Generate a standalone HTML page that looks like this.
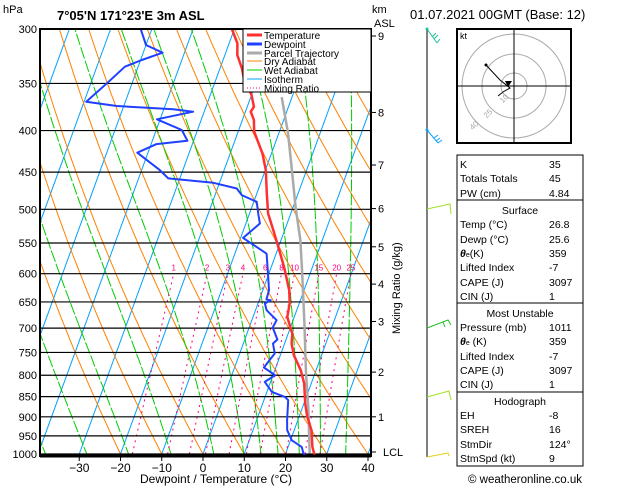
<!DOCTYPE html>
<html><head><meta charset="utf-8"><style>
body{margin:0;background:#fff;}
svg{display:block;font-family:"Liberation Sans",sans-serif;}
</style></head><body>
<svg id="c" width="629" height="486" viewBox="0 0 629 486">
<defs><clipPath id="plot"><rect x="40" y="29" width="331" height="427"/></clipPath></defs>
<text x="3" y="13" font-size="11">hPa</text>
<text x="57" y="20" font-size="13" font-weight="bold">7°05'N  171°23'E  3m  ASL</text>
<text x="372" y="13" font-size="11">km</text>
<text x="374" y="27" font-size="11">ASL</text>
<text x="410" y="19" font-size="13">01.07.2021  00GMT  (Base: 12)</text>
<g id="grid" clip-path="url(#plot)"></g>
<g id="series" clip-path="url(#plot)"></g>
<g id="axes"></g>
<g>
<rect x="243" y="29" width="128" height="63" fill="#fff" stroke="#000"/>
<g font-size="10">
<line x1="247" y1="35" x2="262" y2="35" stroke="#ff3030" stroke-width="3"/><text x="264" y="39">Temperature</text>
<line x1="247" y1="44" x2="262" y2="44" stroke="#2040ff" stroke-width="3"/><text x="264" y="48">Dewpoint</text>
<line x1="247" y1="53" x2="262" y2="53" stroke="#aaa" stroke-width="3"/><text x="264" y="57">Parcel Trajectory</text>
<line x1="247" y1="61" x2="262" y2="61" stroke="#ff8000"/><text x="264" y="65">Dry Adiabat</text>
<line x1="247" y1="70" x2="262" y2="70" stroke="#00cc00"/><text x="264" y="74">Wet Adiabat</text>
<line x1="247" y1="79" x2="262" y2="79" stroke="#00a0ff"/><text x="264" y="83">Isotherm</text>
<line x1="247" y1="88" x2="262" y2="88" stroke="#ff0080" stroke-dasharray="1,2"/><text x="264" y="92">Mixing Ratio</text>
</g></g>
<text x="0" y="0" font-size="11" transform="translate(400,334) rotate(-90)">Mixing Ratio (g/kg)</text>
<text x="216" y="483" font-size="12" text-anchor="middle">Dewpoint / Temperature (°C)</text>
<g fill="none" stroke-width="1">
<line x1="427" y1="29" x2="427" y2="457" stroke="#000"/>
<path d="M427 29 L437 43 M437 43 L440 39 M434 39 L438 35 M432 37 L436 33" stroke="#20c0a0"/>
<path d="M427 130 L438 143 M438 143 L442 140 M436 141 L440 138 M434 138 L438 135" stroke="#10a0ff"/>
<path d="M427 209 L450 204 L451 214" stroke="#a0e020"/>
<path d="M427 328 L448 320 L451 325 M443 322 L445 327" stroke="#20c020"/>
<path d="M427 397 L449 391 L451 400" stroke="#a0e020"/>
<path d="M427 457 L448 453 L449 456" stroke="#e0d020"/>
<circle cx="427" cy="29" r="1.5" fill="#20c0a0"/><circle cx="427" cy="130" r="1.5" fill="#10a0ff"/>
</g>
<g>
<rect x="457" y="29" width="114" height="114" fill="#fff" stroke="#000" stroke-width="2"/>
<text x="460" y="39" font-size="9">kt</text>
<circle cx="514" cy="86" r="13" fill="none" stroke="#aaa"/>
<circle cx="514" cy="86" r="32" fill="none" stroke="#aaa"/>
<circle cx="514" cy="86" r="52" fill="none" stroke="#aaa"/>
<line x1="457" y1="86" x2="571" y2="86" stroke="#000"/>
<line x1="514" y1="29" x2="514" y2="143" stroke="#000"/>
<g font-size="8" fill="#aaa"><text x="500" y="103" transform="rotate(-45 502 100)">10</text><text x="484" y="118" transform="rotate(-45 486 115)">25</text><text x="470" y="130" transform="rotate(-45 472 127)">40</text></g>
<polyline points="486,65 500,80 510,88 503,92 498,96" fill="none" stroke="#000"/>
<circle cx="486" cy="65" r="1.5" fill="#000"/>
<path d="M505 81 L512 81 L508 87 Z" fill="#000"/>
</g>
<g font-size="10.5">
<rect x="457" y="155" width="126" height="45" fill="none" stroke="#000"/>
<rect x="457" y="200" width="126" height="103" fill="none" stroke="#000"/>
<rect x="457" y="303" width="126" height="89" fill="none" stroke="#000"/>
<rect x="457" y="392" width="126" height="74" fill="none" stroke="#000"/>
<text x="460" y="168">K</text><text x="549" y="168">35</text>
<text x="460" y="182">Totals Totals</text><text x="549" y="182">45</text>
<text x="460" y="197">PW (cm)</text><text x="549" y="197">4.84</text>
<text x="520" y="214" text-anchor="middle">Surface</text>
<text x="460" y="228">Temp (°C)</text><text x="549" y="228">26.8</text>
<text x="460" y="243">Dewp (°C)</text><text x="549" y="243">25.6</text>
<text x="460" y="257"><tspan font-weight="bold" font-style="italic">θ</tspan><tspan font-size="7">e</tspan>(K)</text><text x="549" y="257">359</text>
<text x="460" y="271">Lifted Index</text><text x="549" y="271">-7</text>
<text x="460" y="286">CAPE (J)</text><text x="549" y="286">3097</text>
<text x="460" y="300">CIN (J)</text><text x="549" y="300">1</text>
<text x="520" y="317" text-anchor="middle">Most Unstable</text>
<text x="460" y="331">Pressure (mb)</text><text x="549" y="331">1011</text>
<text x="460" y="345"><tspan font-weight="bold" font-style="italic">θ</tspan><tspan font-size="7">e</tspan> (K)</text><text x="549" y="345">359</text>
<text x="460" y="360">Lifted Index</text><text x="549" y="360">-7</text>
<text x="460" y="374">CAPE (J)</text><text x="549" y="374">3097</text>
<text x="460" y="388">CIN (J)</text><text x="549" y="388">1</text>
<text x="520" y="405" text-anchor="middle">Hodograph</text>
<text x="460" y="419">EH</text><text x="549" y="419">-8</text>
<text x="460" y="433">SREH</text><text x="549" y="433">16</text>
<text x="460" y="448">StmDir</text><text x="549" y="448">124°</text>
<text x="460" y="462">StmSpd (kt)</text><text x="549" y="462">9</text>
</g>
<text x="525" y="483" font-size="11.5" text-anchor="middle">© weatheronline.co.uk</text>
</svg>
<script>
const tempP=[300,312.4,322.9,335.3,346.6,361.7,373.9,379.2,388.3,401.3,426.6,447.4,478,506,525.6,550.9,588.7,628.8,653,678.3,711,731.4,756.1,788.9,818.9,866.7,900.3,934.9,980.1,1008];
const tempT=[-30.6,-28,-27,-24.7,-23.1,-20,-18.4,-18.7,-17.2,-16.1,-12.2,-9.9,-7.6,-5.5,-3.3,-0.6,3.1,6.4,7.7,8.3,11,11.7,13.3,16.3,18.3,20.3,22,24.2,25.9,27.4];
const dewP=[300,313.9,320.8,327.5,333.8,349.9,368.6,373.1,376.6,379.2,387.4,399.4,411.7,415.6,425.9,447.4,458.1,463.8,471.3,480.3,489.5,505.9,520.5,542.2,567,600,628.8,645.6,646.8,652.9,665.4,684.5,698.8,723,731.2,752.3,782.7,800,815.3,838.7,850.7,858.7,908.8,934.9,961.8,980.2,1000,1008];
const dewT=[-52.7,-50,-45.3,-49.7,-53.2,-56.1,-59.5,-51.7,-37.7,-32.7,-40.8,-33.8,-31.5,-38.7,-42.6,-35.6,-32.8,-21.5,-15.3,-13.5,-9.3,-7.9,-6.6,-9.4,-2.3,-0.2,1.5,1.7,2.8,1.7,2.7,6,5.7,7.9,7.2,8.5,7.1,10.5,8.6,11.2,14.8,15.9,17.4,18.3,20.3,23.3,24.4,26.3];
const parcelP=[363.8,402.8,443.6,497,545.9,600,690,795,876,998];
const parcelT=[-12.5,-7.8,-3.9,0.6,4.7,8.1,13.0,17.8,21.4,25.8];
const pressureTicks=[300,350,400,450,500,550,600,650,700,750,800,850,900,950,1000];
const tempTicks=[-30,-20,-10,0,10,20,30,40];
const kmTicks=[9,8,7,6,5,4,3,2,1];
const kmPress=[306,380,441,499,556,618,687,793,900];
const mixRatios=[1,2,3,4,6,8,10,15,20,25];
const dryThetas=[253.15,263.15,273.15,283.15,293.15,303.15,313.15,323.15,333.15,343.15,353.15,363.15,373.15,383.15,393.15,403.15,413.15,423.15,433.15,443.15,453.15,463.15,473.15];
const wetStarts=[-35,-25,-15,-5,5,12,16,20,25,30,36];

const NS='http://www.w3.org/2000/svg';
function yOf(p){return 29+Math.log(p/300)/Math.log(1000/300)*425;}
function xOf(T,p){return 203+4.125*T+0.365*(454-yOf(p));}
function mk(tag,parent,attrs){const e=document.createElementNS(NS,tag);for(const k in attrs)e.setAttribute(k,attrs[k]);parent.appendChild(e);return e;}
const grid=document.getElementById('grid'),ser=document.getElementById('series'),axes=document.getElementById('axes');
for(let T=-130;T<=50;T+=10){const l=mk('line',grid,{x1:xOf(T,1000),y1:yOf(1000),x2:xOf(T,300),y2:yOf(300),stroke:'#00a0ff','stroke-width':1});

}
dryThetas.forEach(th=>{let pts=[];for(let p=1050;p>=290;p-=10){pts.push(xOf(th*Math.pow(p/1000,0.2857)-273.15,p).toFixed(1)+','+yOf(p).toFixed(1));}
const l=mk('polyline',grid,{points:pts.join(' '),fill:'none',stroke:'#ff8000','stroke-width':1});

});
function es(T){return 6.112*Math.exp(17.67*T/(T+243.5));}
wetStarts.forEach(t0=>{let T=t0,pts=[];for(let p=1050;p>=290;p-=5){pts.push(xOf(T,p).toFixed(1)+','+yOf(p).toFixed(1));
const TK=T+273.15,rs=0.622*es(T)/(p-es(T)),Lv=2.5e6,Rd=287,cp=1004;
const dTdp=(1/p)*(Rd*TK+Lv*rs)/(cp+Lv*Lv*rs*0.622/(Rd*TK*TK));T-=dTdp*5;}
const l=mk('polyline',grid,{points:pts.join(' '),fill:'none',stroke:'#00cc00','stroke-width':1,'stroke-dasharray':'12,2'});

});
mixRatios.forEach(w=>{let pts=[];for(let p=1000;p>=600;p-=20){const e=w*p/(622+w),a=Math.log(e/6.112),Td=243.5*a/(17.67-a);pts.push(xOf(Td,p).toFixed(1)+','+yOf(p).toFixed(1));}
const l=mk('polyline',grid,{points:pts.join(' '),fill:'none',stroke:'#ff0080','stroke-width':1,'stroke-dasharray':'2,4'});


const e=w*600/(622+w),a=Math.log(e/6.112),Td=243.5*a/(17.67-a);
const t=mk('text',axes,{x:xOf(Td,600),y:yOf(600)-3,'font-size':8,fill:'#ff0080','text-anchor':'middle'});t.textContent=w;

});
pressureTicks.forEach(p=>{const y=yOf(p);const l=mk('line',grid,{x1:40,x2:371,y1:y,y2:y,stroke:'#000','stroke-width':1.2});


const t=mk('text',axes,{x:37,y:y+4,'font-size':11,'text-anchor':'end'});t.textContent=p;

});
function line(P,T,color,w,name){const pts=P.map((p,i)=>xOf(T[i],p).toFixed(1)+','+yOf(p).toFixed(1)).join(' ');
const l=mk('polyline',ser,{points:pts,fill:'none',stroke:color,'stroke-width':w,'stroke-linejoin':'round'});

}
line(parcelP,parcelT,'#aaaaaa',2.5,'parcel-trajectory-line');
line(tempP,tempT,'#ff3030',2.5,'temperature-line');
line(dewP,dewT,'#2040ff',2,'dewpoint-line');
const fr=mk('rect',axes,{x:40,y:29,width:331,height:427,fill:'none',stroke:'#000','stroke-width':2});


mk('line',axes,{x1:40,x2:371,y1:456,y2:456,stroke:'#000','stroke-width':3});
tempTicks.forEach(T=>{const x=xOf(T,1000);mk('line',axes,{x1:x,x2:x,y1:456,y2:461,stroke:'#000'});
const t=mk('text',axes,{x:x,y:472,'font-size':12,'text-anchor':'middle'});t.textContent=T<0?'\u2212'+(-T):T;

});
kmTicks.forEach((k,i)=>{const y=yOf(kmPress[i]);mk('line',axes,{x1:371,x2:376,y1:y,y2:y,stroke:'#000'});
const t=mk('text',axes,{x:378,y:y+4,'font-size':11});t.textContent=k;

});
mk('line',axes,{x1:371,x2:376,y1:452,y2:452,stroke:'#000'});
const lcl=mk('text',axes,{x:383,y:456,'font-size':11});lcl.textContent='LCL';


</script>
</body></html>
